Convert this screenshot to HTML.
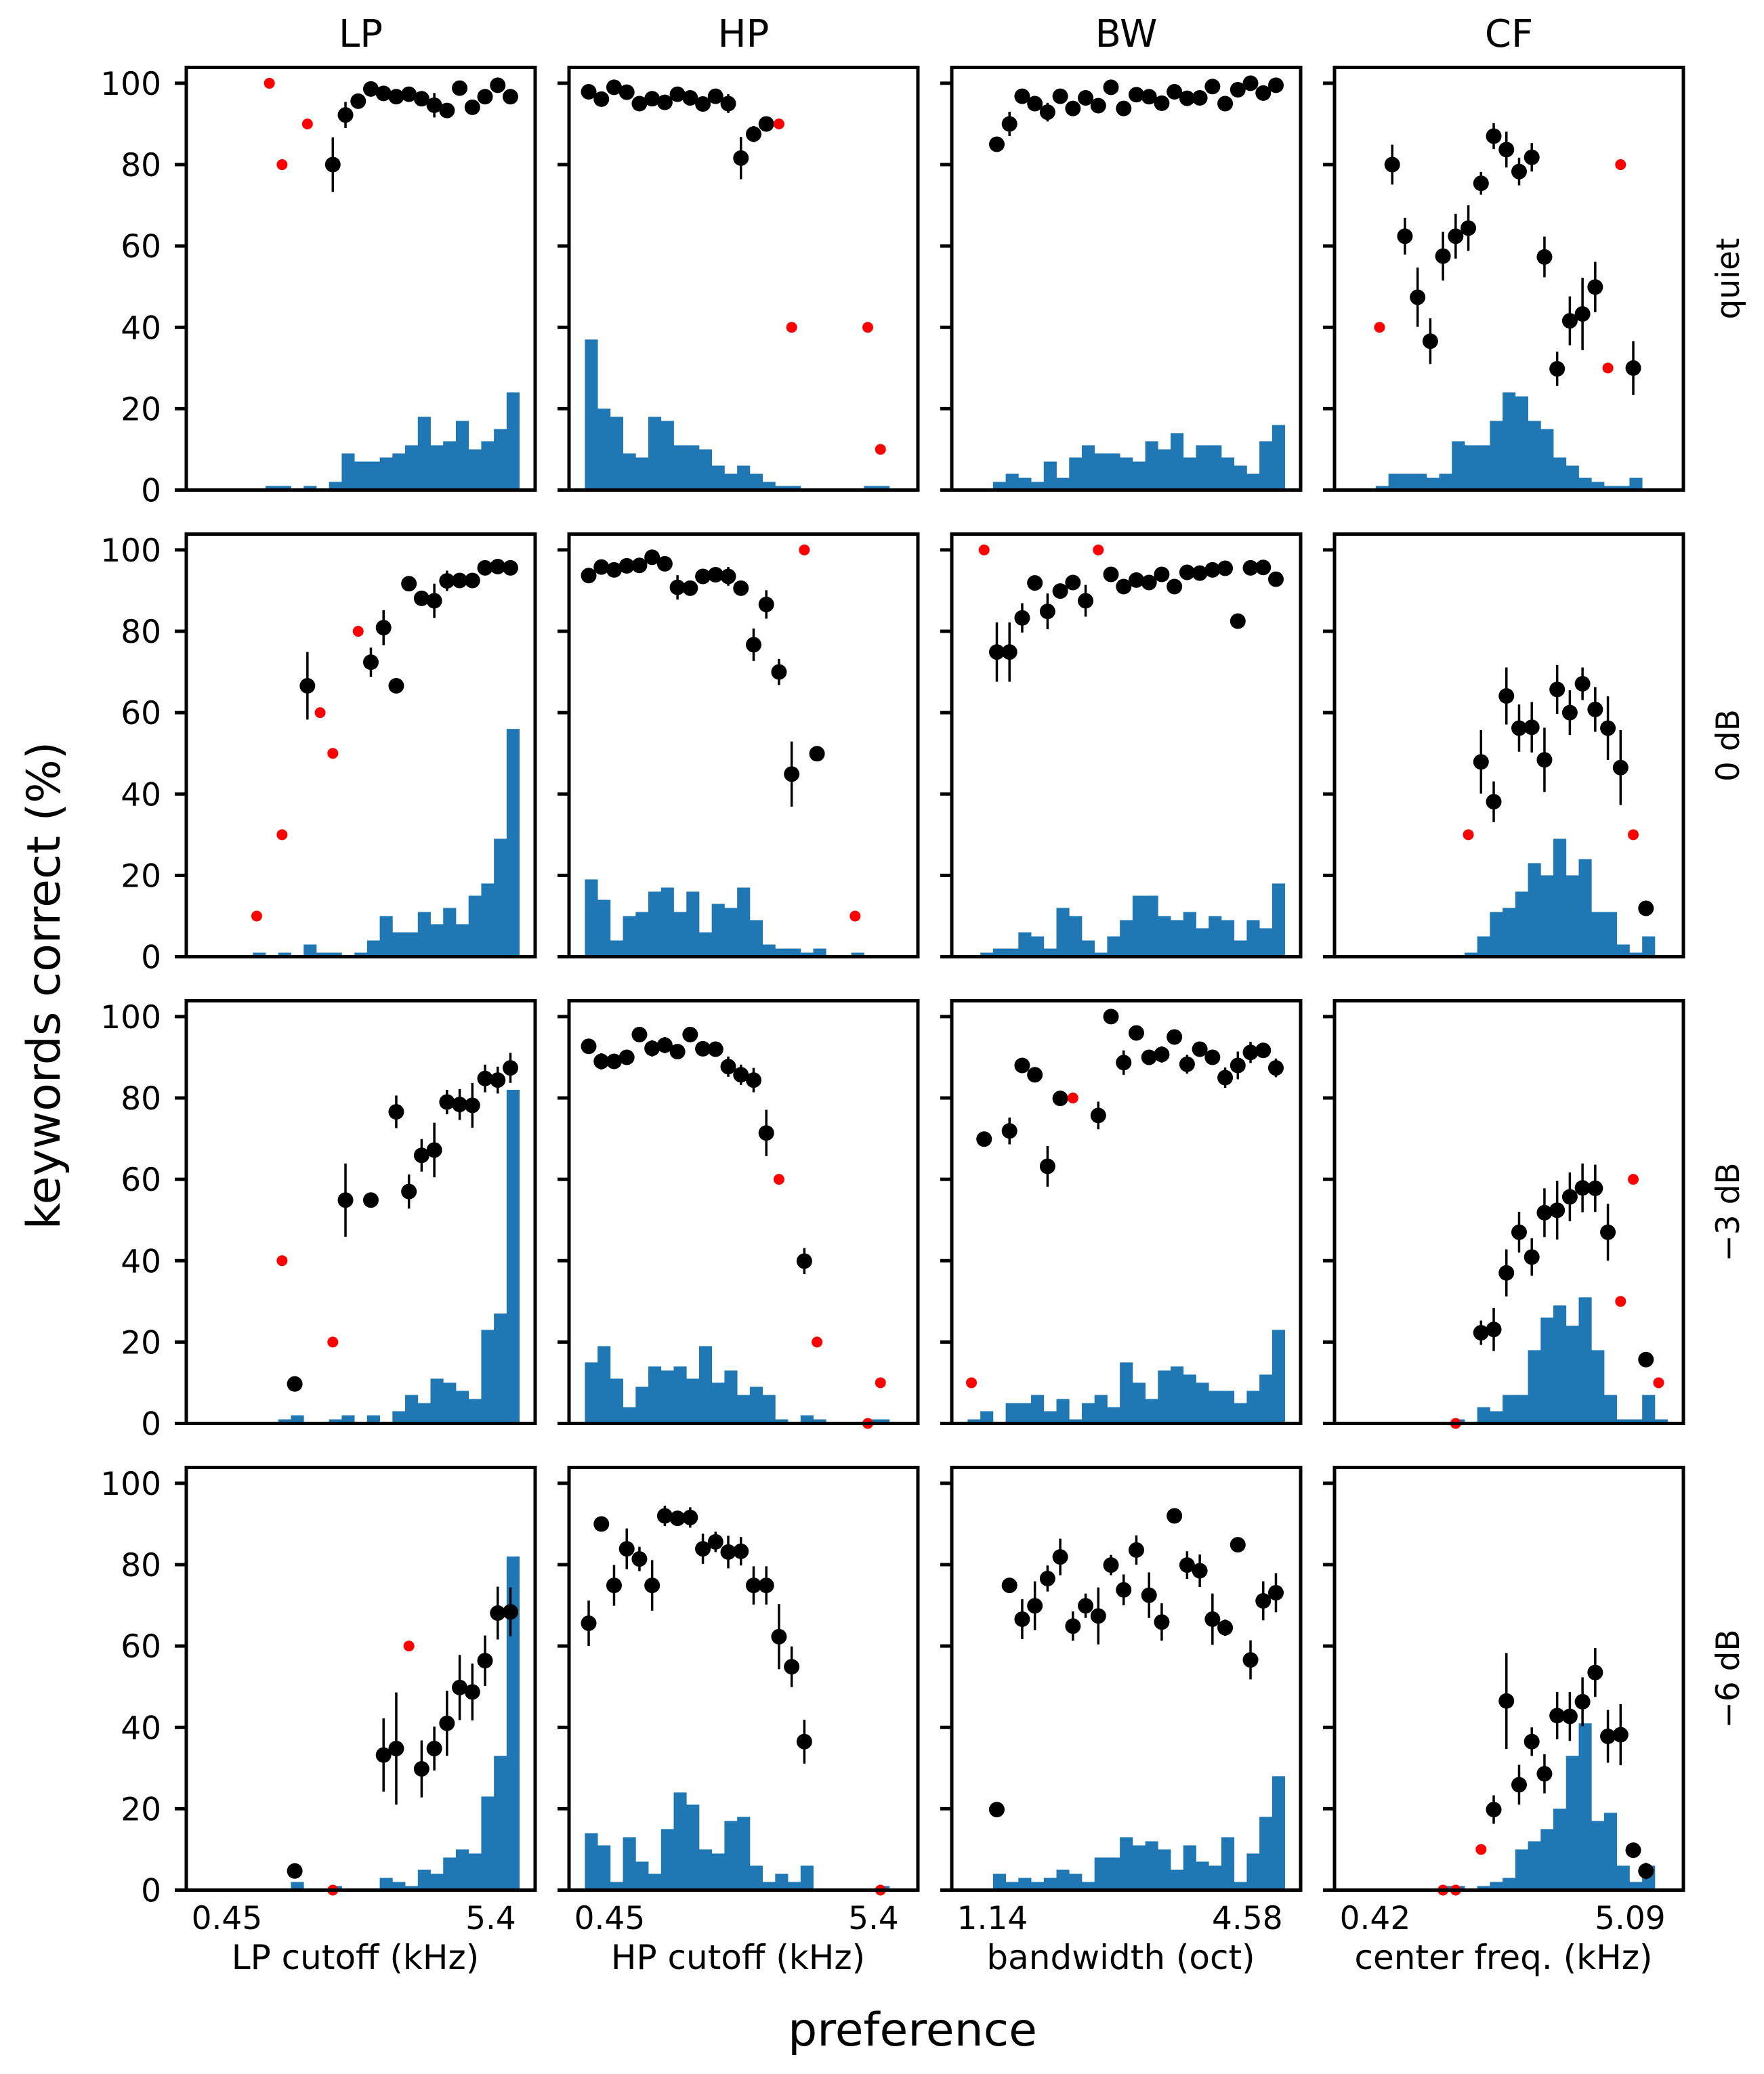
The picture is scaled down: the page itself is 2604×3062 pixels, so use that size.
<!DOCTYPE html>
<html>
<head>
<meta charset="utf-8">
<style>
  html, body { margin: 0; padding: 0; background: #ffffff; }
  svg { display: block; }
  text { font-family: "DejaVu Sans", "Liberation Sans", sans-serif; fill: #000; }
</style>
</head>
<body>
<svg id="fig" width="2604" height="3062" viewBox="0 0 2604 3062" xmlns="http://www.w3.org/2000/svg"></svg>
<script>
// ---------- data (histogram counts per bin; black = mean with error; red = single points) ----------
const columnTitles = ["LP", "HP", "BW", "CF"];
const rowLabels = ["quiet", "0 dB", "\u22123 dB", "\u22126 dB"];
const xAxisTitles = ["LP cutoff (kHz)", "HP cutoff (kHz)", "bandwidth (oct)", "center freq. (kHz)"];
const xTickLabelsLow = ["0.45", "0.45", "1.14", "0.42"];
const xTickLabelsHigh = ["5.4", "5.4", "4.58", "5.09"];
const xTickBinLow = [3.2, 3.2, 3.2, 3.2];
const xTickBinHigh = [24.0, 24.0, 23.3, 23.3];
const yTicks = [0, 20, 40, 60, 80, 100];

// Row 1: quiet
const lpQuietHist = [0,0,0,0,0,1,1,0,1,0,2,9,7,7,8,9,11,18,11,12,17,10,12,15,24];
const lpQuietBlackBin = [10,11,12,13,14,15,16,17,18,19,20,21,22,23,24];
const lpQuietBlackVal = [80,92.2,95.6,98.6,97.5,96.7,97.3,96.2,94.6,93.3,98.8,94.1,96.7,99.5,96.7];
const lpQuietBlackErr = [6.7,3.2,0,0,0,0,0,0,3,0,0,0,0,0,0];
const lpQuietRedBin = [5,6,8];
const lpQuietRedVal = [100,80,90];

const hpQuietHist = [37,20,18,9,8,18,17,11,11,10,6,4,6,4,2,1,1,0,0,0,0,0,1,1,0];
const hpQuietBlackBin = [0,1,2,3,4,5,6,7,8,9,10,11,12,13,14];
const hpQuietBlackVal = [97.9,96.1,99,97.8,95,96.2,95.3,97.3,96.4,94.9,96.8,95,81.6,87.5,90];
const hpQuietBlackErr = [0,0,0,0,0,0,0,0,0,1.5,0,2.3,5.2,2,0];
const hpQuietRedBin = [15,16,22,23];
const hpQuietRedVal = [90,40,40,10];

const bwQuietHist = [0,0,2,4,3,2,7,3,8,11,9,9,8,7,12,10,14,8,11,11,8,6,4,12,16];
const bwQuietBlackBin = [2,3,4,5,6,7,8,9,10,11,12,13,14,15,16,17,18,19,20,21,22,23,24];
const bwQuietBlackVal = [85,90,96.8,95,92.9,96.8,93.8,96.4,94.5,99,93.8,97.2,96.7,95.1,97.9,96.3,96.4,99.2,95,98.4,100,97.6,99.5];
const bwQuietBlackErr = [0,3,0,0,2.3,0,0,0,0,0,0,0,0,0,0,0,0,0,0,0,0,0,0];
const bwQuietRedBin = [];
const bwQuietRedVal = [];

const cfQuietHist = [0,0,1,4,4,4,3,4,12,11,11,17,24,23,17,15,8,6,3,2,1,1,3,0,0];
const cfQuietBlackBin = [3,4,5,6,7,8,9,10,11,12,13,14,15,16,17,18,19,22];
const cfQuietBlackVal = [80,62.4,47.4,36.6,57.5,62.4,64.4,75.4,87,83.7,78.3,81.8,57.3,29.8,41.6,43.3,49.9,30];
const cfQuietBlackErr = [4.9,4.5,7.3,5.6,6,5.5,5.6,2.8,3.2,4.4,3.4,3.5,5,4.2,6,8.9,6.2,6.6];
const cfQuietRedBin = [2,20,21];
const cfQuietRedVal = [40,30,80];

// Row 2: 0 dB
const lp0Hist = [0,0,0,0,1,0,1,0,3,1,1,0,1,4,10,6,6,11,8,12,8,15,18,29,56];
const lp0BlackBin = [8,13,14,15,16,17,18,19,20,21,22,23,24];
const lp0BlackVal = [66.6,72.4,80.9,66.6,91.7,88.1,87.5,92.4,92.5,92.5,95.6,95.9,95.6];
const lp0BlackErr = [8.3,3.6,4.3,1,0,1.5,4.2,2.5,1,0,1,0,0];
const lp0RedBin = [4,6,9,10,12];
const lp0RedVal = [10,30,60,50,80];

const hp0Hist = [19,14,4,10,11,16,17,11,16,6,13,12,17,9,3,2,2,1,2,0,0,1,0,0,0];
const hp0BlackBin = [0,1,2,3,4,5,6,7,8,9,10,11,12,13,14,15,16,18];
const hp0BlackVal = [93.7,95.8,95.1,96.1,96.2,98.2,96.6,90.8,90.6,93.5,93.9,93.5,90.6,76.7,86.6,70,44.9,49.9];
const hp0BlackErr = [0,0,0,0,0,0,0,3,1,0,0,2.3,1.5,4,3.5,3.2,8,0];
const hp0RedBin = [17,21];
const hp0RedVal = [100,10];

const bw0Hist = [0,1,2,2,6,5,2,12,10,4,1,5,9,15,15,10,9,11,7,10,9,4,9,7,18];
const bw0BlackBin = [2,3,4,5,6,7,8,9,11,12,13,14,15,16,17,18,19,20,21,22,23,24];
const bw0BlackVal = [74.9,74.9,83.3,91.9,84.9,89.9,92,87.5,94,91,92.6,92,94,91,94.5,94.3,95.1,95.5,82.5,95.6,95.7,92.8];
const bw0BlackErr = [7.3,7.3,3.6,0,4.4,1,0,3.9,0,1,0,0,0,0,0,0,0,0,1,0,0,0];
const bw0RedBin = [1,10];
const bw0RedVal = [100,100];

const cf0Hist = [0,0,0,0,0,0,0,0,0,1,5,11,12,16,23,20,29,20,24,11,11,3,1,5,0];
const cf0BlackBin = [10,11,12,13,14,15,16,17,18,19,20,21,23];
const cf0BlackVal = [47.9,38.1,64.1,56.2,56.4,48.4,65.7,60,67.1,60.8,56.2,46.5,11.9];
const cf0BlackErr = [7.8,5,7,5.8,6.2,7.9,6,5.5,4,5.5,7.8,9.2,1];
const cf0RedBin = [9,22];
const cf0RedVal = [30,30];

// Row 3: -3 dB
const lp3Hist = [0,0,0,0,0,0,1,2,0,0,1,2,0,2,0,3,7,5,11,10,8,6,23,27,82];
const lp3BlackBin = [7,11,13,15,16,17,18,19,20,21,22,23,24];
const lp3BlackVal = [9.7,54.9,54.9,76.6,57,65.9,67.2,79,78.4,78.2,84.8,84.4,87.4];
const lp3BlackErr = [0,9,1,4,4.2,4,6.7,3,3.8,5.5,3.4,3.3,3.7];
const lp3RedBin = [6,10];
const lp3RedVal = [40,20];

const hp3Hist = [15,19,11,4,9,14,13,14,11,19,10,13,7,9,7,1,0,2,1,0,0,0,1,1,0];
const hp3BlackBin = [0,1,2,3,4,5,6,7,8,9,10,11,12,13,14,17];
const hp3BlackVal = [92.7,89,89,90,95.6,92.2,93,91.4,95.6,92.1,92,87.7,85.7,84.4,71.4,39.9];
const hp3BlackErr = [1,2,1,1,0,2,2,1,0,1,0,2.5,2.5,3,5.7,3.2];
const hp3RedBin = [15,18,22,23];
const hp3RedVal = [60,20,0,10];

const bw3Hist = [1,3,0,5,5,7,3,6,1,5,7,4,15,10,6,13,14,12,10,8,8,5,8,12,23];
const bw3BlackBin = [1,3,4,5,6,7,10,11,12,13,14,15,16,17,18,19,20,21,22,23,24];
const bw3BlackVal = [69.9,71.9,88,85.7,63.2,79.9,75.7,100,88.7,96,90,90.7,95,88.3,92,90,85,88,91.2,91.7,87.4];
const bw3BlackErr = [1,3.3,0,0,5,0,3.4,0,3,0,0,2,0,2.3,0,0,2.5,3.4,2.6,0,2.3];
const bw3RedBin = [0,8];
const bw3RedVal = [10,80];

const cf3Hist = [0,0,0,0,0,0,0,0,1,0,4,3,7,7,18,26,29,24,31,18,7,1,1,7,1];
const cf3BlackBin = [10,11,12,13,14,15,16,17,18,19,20,23];
const cf3BlackVal = [22.3,23.1,37,47,40.9,51.8,52.4,55.7,57.9,57.8,47,15.7];
const cf3BlackErr = [3,5.3,5.8,5,4.6,6,7.2,6,6,5.8,7,0.5];
const cf3RedBin = [8,21,22,24];
const cf3RedVal = [0,30,60,10];

// Row 4: -6 dB
const lp6Hist = [0,0,0,0,0,0,0,2,0,0,1,0,0,0,3,2,1,5,4,8,10,9,23,33,82];
const lp6BlackBin = [7,14,15,17,18,19,20,21,22,23,24];
const lp6BlackVal = [4.7,33.2,34.8,29.8,34.8,41,49.8,48.7,56.4,68.1,68.4];
const lp6BlackErr = [0.8,9,13.8,7,5.4,8,8,7,6.2,6.5,6];
const lp6RedBin = [10,16];
const lp6RedVal = [0,60];

const hp6Hist = [14,11,2,13,7,4,15,24,21,10,9,17,18,6,2,4,2,6,0,0,0,0,0,1,0];
const hp6BlackBin = [0,1,2,3,4,5,6,7,8,9,10,11,12,13,14,15,16,17];
const hp6BlackVal = [65.6,90,74.9,83.9,81.4,74.9,92,91.4,91.6,83.9,85.6,83.1,83.3,74.9,74.9,62.3,54.9,36.5];
const hp6BlackErr = [5.6,1.5,5,5,3,6.2,2.5,1.5,2.5,3.7,2.5,4,3.5,4.7,4.7,8,5,5.4];
const hp6RedBin = [23];
const hp6RedVal = [0];

const bw6Hist = [0,0,4,2,3,2,3,5,4,2,8,8,13,11,12,10,5,11,7,6,13,2,9,18,28];
const bw6BlackBin = [2,3,4,5,6,7,8,9,10,11,12,13,14,15,16,17,18,19,20,21,22,23,24];
const bw6BlackVal = [19.8,74.9,66.6,69.9,76.6,81.9,64.9,69.9,67.4,79.9,73.8,83.6,72.5,65.9,92,79.9,78.5,66.6,64.5,84.9,56.6,71.1,73.1];
const bw6BlackErr = [0,0,4.9,6,3.2,4.5,3.6,3,7,2.5,3.8,3.6,5.6,4.6,0,3.4,4,6.3,2,0,4.8,4.8,4.8];
const bw6RedBin = [];
const bw6RedVal = [];

const cf6Hist = [0,0,0,0,0,0,0,1,1,0,1,2,3,10,12,15,20,33,41,17,19,6,2,6,0];
const cf6BlackBin = [11,12,13,14,15,16,17,18,19,20,21,22,23];
const cf6BlackVal = [19.8,46.5,25.9,36.5,28.6,42.9,42.7,46.3,53.5,37.8,38.2,9.8,4.7];
const cf6BlackErr = [3.5,11.8,4.9,3.5,4.8,5.8,6,6,6,6.5,7.5,0,2];
const cf6RedBin = [7,8,10];
const cf6RedVal = [0,0,10];

const panels = [
  [lpQuietHist, lpQuietBlackBin, lpQuietBlackVal, lpQuietBlackErr, lpQuietRedBin, lpQuietRedVal],
  [hpQuietHist, hpQuietBlackBin, hpQuietBlackVal, hpQuietBlackErr, hpQuietRedBin, hpQuietRedVal],
  [bwQuietHist, bwQuietBlackBin, bwQuietBlackVal, bwQuietBlackErr, bwQuietRedBin, bwQuietRedVal],
  [cfQuietHist, cfQuietBlackBin, cfQuietBlackVal, cfQuietBlackErr, cfQuietRedBin, cfQuietRedVal],
  [lp0Hist, lp0BlackBin, lp0BlackVal, lp0BlackErr, lp0RedBin, lp0RedVal],
  [hp0Hist, hp0BlackBin, hp0BlackVal, hp0BlackErr, hp0RedBin, hp0RedVal],
  [bw0Hist, bw0BlackBin, bw0BlackVal, bw0BlackErr, bw0RedBin, bw0RedVal],
  [cf0Hist, cf0BlackBin, cf0BlackVal, cf0BlackErr, cf0RedBin, cf0RedVal],
  [lp3Hist, lp3BlackBin, lp3BlackVal, lp3BlackErr, lp3RedBin, lp3RedVal],
  [hp3Hist, hp3BlackBin, hp3BlackVal, hp3BlackErr, hp3RedBin, hp3RedVal],
  [bw3Hist, bw3BlackBin, bw3BlackVal, bw3BlackErr, bw3RedBin, bw3RedVal],
  [cf3Hist, cf3BlackBin, cf3BlackVal, cf3BlackErr, cf3RedBin, cf3RedVal],
  [lp6Hist, lp6BlackBin, lp6BlackVal, lp6BlackErr, lp6RedBin, lp6RedVal],
  [hp6Hist, hp6BlackBin, hp6BlackVal, hp6BlackErr, hp6RedBin, hp6RedVal],
  [bw6Hist, bw6BlackBin, bw6BlackVal, bw6BlackErr, bw6RedBin, bw6RedVal],
  [cf6Hist, cf6BlackBin, cf6BlackVal, cf6BlackErr, cf6RedBin, cf6RedVal]
];

// ---------- layout ----------
const NS = "http://www.w3.org/2000/svg";
const svg = document.getElementById("fig");
const PX0 = 275, PDX = 565, PW = 515;
const PY0 = 99.5, PDY = 689, PH = 624;
const XMAX = 27.5, YMAX = 103.9;
const BIN0 = 1.25, DOT_OFF = 1.55;

function el(tag, attrs, parent) {
  const e = document.createElementNS(NS, tag);
  for (const k in attrs) e.setAttribute(k, attrs[k]);
  (parent || svg).appendChild(e);
  return e;
}
function xs(c, u) { return PX0 + c * PDX + u * PW / XMAX; }
function ys(r, v) { return PY0 + r * PDY + PH - v * PH / YMAX; }

for (let r = 0; r < 4; r++) {
  for (let c = 0; c < 4; c++) {
    const [hist, bBin, bVal, bErr, rBin, rVal] = panels[r * 4 + c];
    const g = el("g", {});
    
    

    for (let k = 0; k < hist.length; k++) {
      if (hist[k] <= 0) continue;
      const x0 = xs(c, BIN0 + k), x1 = xs(c, BIN0 + k + 1);
      const y0 = ys(r, hist[k]), yb = ys(r, 0);
      const b = el("rect", { x: x0, y: y0, width: x1 - x0 + 0.4, height: yb - y0, fill: "#1f77b4" }, g);
      
      
    }
    for (let i = 0; i < bBin.length; i++) {
      const x = xs(c, DOT_OFF + bBin[i]);
      if (bErr[i] > 0) {
        const l = el("line", { x1: x, x2: x, y1: ys(r, bVal[i] - bErr[i]), y2: ys(r, bVal[i] + bErr[i]), stroke: "#000", "stroke-width": 3.5 }, g);
        
        
      }
      const d = el("circle", { cx: x, cy: ys(r, bVal[i]), r: 11.5, fill: "#000" }, g);
      
      
    }
    for (let i = 0; i < rBin.length; i++) {
      const d = el("circle", { cx: xs(c, DOT_OFF + rBin[i]), cy: ys(r, rVal[i]), r: 8, fill: "#ff0000" }, g);
      
      
    }
    const fr = el("rect", { x: xs(c, 0), y: PY0 + r * PDY, width: PW, height: PH, fill: "none", stroke: "#000", "stroke-width": 5 }, g);
    
    
    for (const t of yTicks) {
      const ty = ys(r, t);
      const tk = el("line", { x1: xs(c, 0) - 17, x2: xs(c, 0), y1: ty, y2: ty, stroke: "#000", "stroke-width": 5 }, g);
      
      
      if (c === 0) {
        const tl = el("text", { x: 238, y: ty + 17, "text-anchor": "end", "font-size": 47 }, g);
        tl.textContent = String(t);
        
        
      }
    }
    if (r === 3) {
      const a = el("text", { x: xs(c, xTickBinLow[c]), y: 2848, "text-anchor": "middle", "font-size": 47 }, g);
      a.textContent = xTickLabelsLow[c];
      
      
      const b = el("text", { x: xs(c, xTickBinHigh[c]), y: 2848, "text-anchor": "middle", "font-size": 47 }, g);
      b.textContent = xTickLabelsHigh[c];
      
      
      const t = el("text", { x: xs(c, XMAX / 2) - 8, y: 2907, "text-anchor": "middle", "font-size": 50 }, g);
      t.textContent = xAxisTitles[c];
      
      
    }
  }
}
for (let c = 0; c < 4; c++) {
  const t = el("text", { x: xs(c, XMAX / 2), y: 69, "text-anchor": "middle", "font-size": 56 });
  t.textContent = columnTitles[c];
  
  
}
for (let r = 0; r < 4; r++) {
  const cy = PY0 + r * PDY + PH / 2;
  const t = el("text", { x: 0, y: 0, "text-anchor": "middle", "font-size": 47, transform: "translate(2567," + cy + ") rotate(-90)" });
  t.textContent = rowLabels[r];
  
  
}
const yl = el("text", { x: 0, y: 0, "text-anchor": "middle", "font-size": 68, transform: "translate(88,1455) rotate(-90)" });
yl.textContent = "keywords correct (%)";


const xl = el("text", { x: 1347, y: 3020, "text-anchor": "middle", "font-size": 68 });
xl.textContent = "preference";


</script>
</body>
</html>
